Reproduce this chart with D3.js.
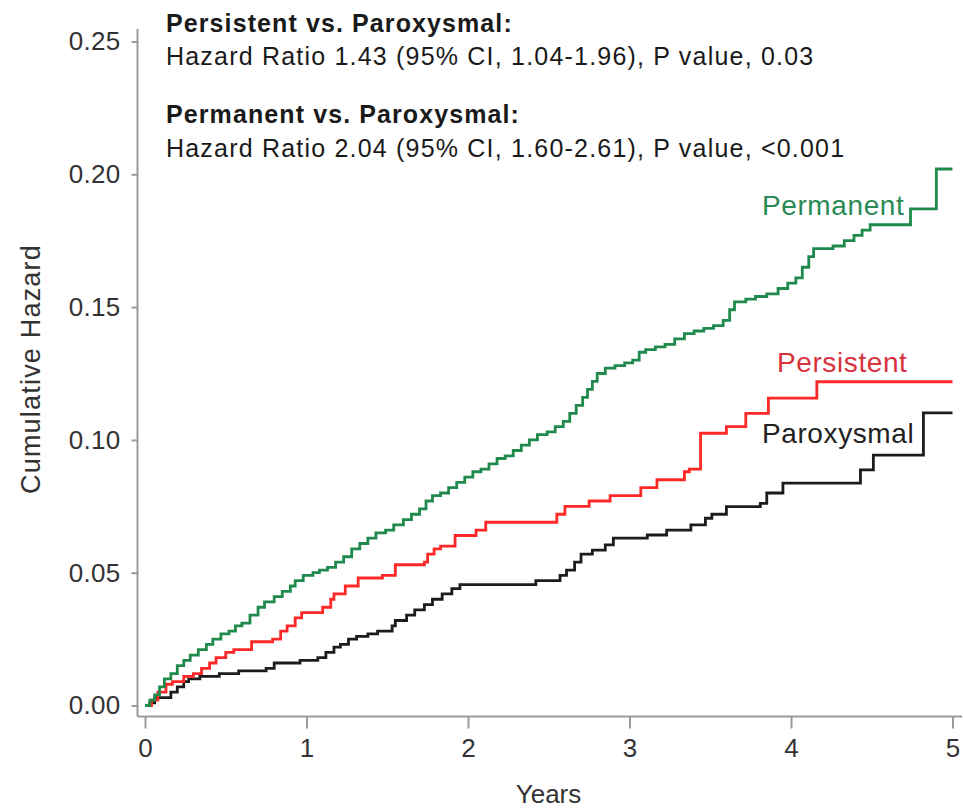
<!DOCTYPE html>
<html>
<head>
<meta charset="utf-8">
<script src="https://cdn.jsdelivr.net/npm/d3@7"></script>
<style>
  html, body { margin: 0; padding: 0; background: #ffffff; }
  svg { display: block; }
  text { font-family: "Liberation Sans", Arial, Helvetica, sans-serif; }
</style>
</head>
<body>
<svg id="chart" width="963" height="811"></svg>
<script>
// ---- Data ----
const yearTicks = [0, 1, 2, 3, 4, 5];
const hazardTicks = [0.00, 0.05, 0.10, 0.15, 0.20, 0.25];
const hazardTickLabels = ["0.00", "0.05", "0.10", "0.15", "0.20", "0.25"];

const seriesNames = ["Permanent", "Persistent", "Paroxysmal"];

const permanentTime = [0, 0.03, 0.06, 0.09, 0.12, 0.16, 0.20, 0.24, 0.28, 0.33, 0.38, 0.42, 0.47, 0.52, 0.56, 0.60, 0.65, 0.70, 0.74, 0.80, 0.85, 0.90, 0.93, 0.98, 1.04, 1.08, 1.13, 1.18, 1.23, 1.28, 1.33, 1.38, 1.43, 1.49, 1.54, 1.60, 1.65, 1.70, 1.74, 1.78, 1.83, 1.88, 1.93, 1.98, 2.03, 2.08, 2.13, 2.18, 2.23, 2.28, 2.33, 2.38, 2.43, 2.49, 2.54, 2.59, 2.63, 2.67, 2.71, 2.74, 2.77, 2.80, 2.85, 2.91, 2.97, 3.02, 3.06, 3.10, 3.16, 3.22, 3.28, 3.34, 3.40, 3.46, 3.52, 3.58, 3.62, 3.65, 3.72, 3.78, 3.85, 3.92, 3.98, 4.03, 4.07, 4.11, 4.14, 4.26, 4.33, 4.39, 4.44, 4.49, 4.74, 4.90, 5.00];
const permanentHazard = [0, 0.002, 0.004, 0.007, 0.010, 0.012, 0.015, 0.017, 0.019, 0.021, 0.023, 0.025, 0.027, 0.028, 0.030, 0.031, 0.034, 0.037, 0.039, 0.041, 0.043, 0.045, 0.047, 0.049, 0.050, 0.051, 0.052, 0.054, 0.056, 0.059, 0.061, 0.063, 0.065, 0.066, 0.068, 0.070, 0.072, 0.074, 0.077, 0.079, 0.080, 0.082, 0.084, 0.086, 0.088, 0.089, 0.091, 0.093, 0.094, 0.096, 0.098, 0.100, 0.102, 0.103, 0.105, 0.107, 0.110, 0.113, 0.116, 0.119, 0.122, 0.125, 0.127, 0.128, 0.129, 0.130, 0.133, 0.134, 0.135, 0.136, 0.138, 0.140, 0.141, 0.142, 0.143, 0.145, 0.149, 0.152, 0.153, 0.154, 0.155, 0.157, 0.159, 0.161, 0.165, 0.169, 0.172, 0.173, 0.175, 0.177, 0.179, 0.181, 0.187, 0.202, 0.202];

const persistentTime = [0, 0.04, 0.08, 0.13, 0.17, 0.24, 0.30, 0.35, 0.40, 0.44, 0.50, 0.55, 0.66, 0.79, 0.84, 0.88, 0.93, 0.97, 1.10, 1.15, 1.17, 1.24, 1.32, 1.47, 1.55, 1.73, 1.75, 1.79, 1.83, 1.92, 2.05, 2.11, 2.55, 2.60, 2.75, 2.88, 3.07, 3.17, 3.34, 3.37, 3.44, 3.60, 3.72, 3.86, 4.16, 5.00];
const persistentHazard = [0, 0.002, 0.005, 0.008, 0.009, 0.011, 0.012, 0.014, 0.016, 0.018, 0.020, 0.021, 0.024, 0.025, 0.028, 0.030, 0.033, 0.035, 0.037, 0.040, 0.042, 0.045, 0.048, 0.049, 0.053, 0.054, 0.057, 0.059, 0.060, 0.064, 0.066, 0.069, 0.072, 0.075, 0.077, 0.079, 0.082, 0.085, 0.088, 0.089, 0.1025, 0.105, 0.110, 0.1157, 0.1219, 0.1219];

const paroxysmalTime = [0, 0.03, 0.06, 0.16, 0.20, 0.24, 0.27, 0.34, 0.46, 0.58, 0.75, 0.80, 0.96, 1.07, 1.12, 1.17, 1.21, 1.26, 1.31, 1.38, 1.44, 1.53, 1.55, 1.62, 1.67, 1.73, 1.78, 1.84, 1.90, 1.95, 2.42, 2.57, 2.61, 2.66, 2.70, 2.77, 2.85, 2.90, 3.11, 3.23, 3.38, 3.47, 3.51, 3.60, 3.81, 3.85, 3.95, 4.43, 4.51, 4.82, 5.00];
const paroxysmalHazard = [0, 0.001, 0.003, 0.005, 0.007, 0.009, 0.010, 0.011, 0.012, 0.013, 0.014, 0.016, 0.017, 0.018, 0.020, 0.022, 0.023, 0.025, 0.026, 0.027, 0.028, 0.030, 0.032, 0.034, 0.036, 0.038, 0.040, 0.042, 0.044, 0.0455, 0.047, 0.049, 0.051, 0.054, 0.057, 0.0585, 0.0605, 0.063, 0.0642, 0.066, 0.068, 0.0705, 0.072, 0.0749, 0.0761, 0.080, 0.0837, 0.0887, 0.0943, 0.1102, 0.1102];

const headerBold = ["Persistent vs. Paroxysmal:", "Permanent vs. Paroxysmal:"];
const headerText = ["Hazard Ratio 1.43 (95% CI, 1.04-1.96), P value, 0.03",
                    "Hazard Ratio 2.04 (95% CI, 1.60-2.61), P value, <0.001"];

// ---- Layout ----
const svg = d3.select("#chart");
const x = d3.scaleLinear().domain([0, 5]).range([145, 952.5]);
const y = d3.scaleLinear().domain([0, 0.25]).range([705.5, 41.5]);
const axisColor = "#9a9a9a";
const tickText = "#333333";
const yAxisX = 137.5, xAxisY = 716.5;

// Y axis
const yAxis = svg.append("g").attr("transform", `translate(${yAxisX},0)`)
  .call(d3.axisLeft(y).tickValues(hazardTicks).tickSize(6).tickPadding(11)
        .tickFormat((d, i) => hazardTickLabels[i]));
yAxis.select(".domain").remove();
yAxis.selectAll(".tick line").attr("stroke", axisColor).attr("stroke-width", 2);
yAxis.selectAll(".tick text").attr("fill", tickText).style("font-size", "26px")
  .style("font-family", "'Liberation Sans', Arial, sans-serif").style("letter-spacing", "0.3px");
svg.append("line").attr("x1", yAxisX).attr("x2", yAxisX).attr("y1", 29).attr("y2", xAxisY)
  .attr("stroke", axisColor).attr("stroke-width", 2);

// X axis
const xAxis = svg.append("g").attr("transform", `translate(0,${xAxisY})`)
  .call(d3.axisBottom(x).tickValues(yearTicks).tickSize(12).tickPadding(10).tickFormat(d3.format("d")));
xAxis.select(".domain").remove();
xAxis.selectAll(".tick line").attr("stroke", axisColor).attr("stroke-width", 2);
xAxis.selectAll(".tick text").attr("fill", tickText).style("font-size", "26px")
  .style("font-family", "'Liberation Sans', Arial, sans-serif");
svg.append("line").attr("x1", yAxisX).attr("x2", 962).attr("y1", xAxisY).attr("y2", xAxisY)
  .attr("stroke", axisColor).attr("stroke-width", 2);

// Axis titles
svg.append("text").attr("x", 548.5).attr("y", 803).attr("text-anchor", "middle")
  .attr("fill", tickText).style("font-size", "26px").text("Years");
svg.append("text").attr("transform", "translate(40,369) rotate(-90)").attr("text-anchor", "middle")
  .attr("fill", tickText).style("font-size", "27px").style("letter-spacing", "1.2px").text("Cumulative Hazard");

// Lines
const line = d3.line().x(d => x(d[0])).y(d => y(d[1])).curve(d3.curveStepAfter);
const series = [
  { name: seriesNames[0], t: permanentTime, h: permanentHazard, color: "#1f8a4c" },
  { name: seriesNames[1], t: persistentTime, h: persistentHazard, color: "#ff2828" },
  { name: seriesNames[2], t: paroxysmalTime, h: paroxysmalHazard, color: "#1c1c1c" }
];
series.slice().reverse().forEach(s => {
  svg.append("path").datum(s.t.map((t, i) => [t, s.h[i]]))
    .attr("d", line).attr("fill", "none").attr("stroke", s.color)
    .attr("stroke-width", 2.8).attr("stroke-linejoin", "miter");
});

// Series labels
const labelColors = ["#2a8a55", "#d8323c", "#222222"];
const labelPos = [[762, 215], [777, 372], [762, 443]];
seriesNames.forEach((n, i) => {
  svg.append("text").attr("x", labelPos[i][0]).attr("y", labelPos[i][1])
    .attr("fill", labelColors[i]).style("font-size", "28px").style("letter-spacing", "0.6px").text(n);
});

// Header annotations
const headerY = [[32, 65], [123, 157]];
headerBold.forEach((t, i) => {
  svg.append("text").attr("x", 166).attr("y", headerY[i][0]).attr("fill", "#1a1a1a")
    .style("font-size", "25px").style("font-weight", "bold").style("letter-spacing", "1.1px").text(t);
  svg.append("text").attr("x", 166).attr("y", headerY[i][1]).attr("fill", "#1a1a1a")
    .style("font-size", "25px").style("letter-spacing", "1.2px").text(headerText[i]);
});
</script>
</body>
</html>
